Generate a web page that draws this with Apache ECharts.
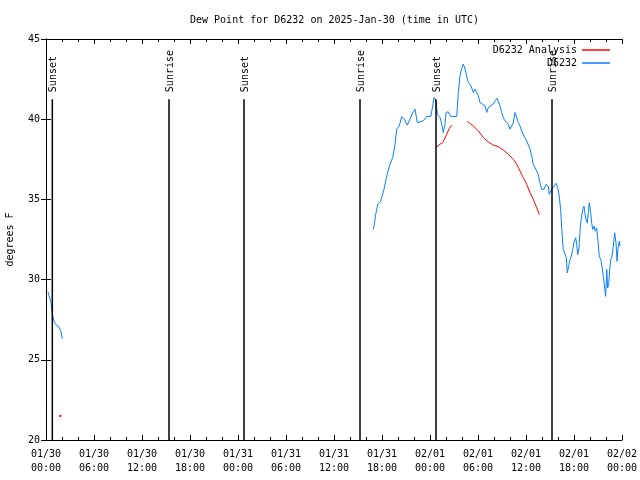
<!DOCTYPE html>
<html>
<head>
<meta charset="utf-8">
<script src="https://cdn.jsdelivr.net/npm/echarts@6/dist/echarts.min.js"></script>
<style>html,body{margin:0;padding:0;background:#fff}#c{width:640px;height:480px}</style>
</head>
<body>
<div id="c"></div>
<script>
// Hours since 2025-01-30 00:00 UTC
var xTickLabels = ['01/30\n00:00','01/30\n06:00','01/30\n12:00','01/30\n18:00','01/31\n00:00','01/31\n06:00','01/31\n12:00','01/31\n18:00','02/01\n00:00','02/01\n06:00','02/01\n12:00','02/01\n18:00','02/02\n00:00'];

var obsHours = [0.25,0.5,0.625,0.75,1.0,1.25,1.625,1.875,2.04,null,
40.91,41.0,41.09,41.21,41.34,41.46,41.66,41.84,41.96,42.25,42.5,42.75,43.0,43.34,43.63,43.84,44.16,44.46,44.79,45.16,45.5,45.84,46.13,46.41,46.66,47.16,47.59,48.09,48.34,48.5,48.75,48.91,49.25,49.46,49.66,49.88,50.0,50.29,50.59,51.34,51.54,51.75,51.96,52.16,52.38,52.59,52.79,53.13,53.41,53.63,53.84,54.04,54.25,54.46,54.88,55.09,55.29,55.5,55.91,56.13,56.38,56.75,56.96,57.16,57.38,57.59,57.79,58.0,58.21,58.41,58.63,58.84,59.04,59.25,59.46,59.75,60.09,60.29,60.5,60.71,60.91,61.13,61.34,61.54,61.66,61.84,61.96,62.25,62.5,62.79,62.91,63.09,63.29,63.5,63.75,63.96,64.16,64.34,64.5,64.66,64.91,65.04,65.16,65.34,65.5,65.66,65.84,66.04,66.21,66.34,66.46,66.63,66.79,66.91,67.09,67.25,67.38,67.5,67.66,67.79,67.91,68.09,68.21,68.34,68.5,68.66,68.84,69.0,69.16,69.34,69.5,69.66,69.84,69.96,70.09,70.21,70.34,70.46,70.59,70.75,70.91,71.09,71.25,71.38,71.5,71.66,71.75];
var obsDew = [29.23,29.12,28.56,27.94,27.39,27.19,27.04,26.77,26.31,null,
33.13,33.33,33.64,34.06,34.38,34.69,34.75,34.89,35.0,35.63,36.25,36.75,37.19,37.61,38.44,39.38,39.58,40.17,40.0,39.63,40.0,40.42,40.63,39.79,39.89,39.89,40.17,40.17,40.83,41.36,41.14,40.31,40.11,39.69,39.17,39.69,40.42,40.46,40.17,40.17,41.67,42.71,43.17,43.44,43.13,43.23,42.29,42.08,41.67,41.88,41.67,41.46,41.04,40.94,40.83,40.42,40.73,40.83,40.94,41.14,41.3,40.83,40.42,40.11,39.89,40.0,39.69,39.38,39.58,39.79,40.42,40.31,39.79,39.58,39.27,38.96,38.64,38.54,38.13,37.71,37.19,37.08,36.77,36.56,36.25,35.83,35.63,35.63,35.94,35.83,35.31,35.52,35.42,35.83,36.0,35.73,35.21,34.27,32.92,31.88,31.88,31.36,30.42,30.83,31.25,31.46,31.88,32.39,32.61,32.19,31.56,31.98,33.33,33.75,34.38,34.58,34.06,33.75,33.54,34.17,34.79,34.17,33.54,33.13,33.33,33.02,33.23,32.39,31.46,31.25,30.83,30.21,29.48,28.96,30.63,29.48,29.69,30.63,31.25,31.46,32.08,32.92,32.29,31.14,31.98,32.39,32.08];

var anaHours = [1.79,null,48.71,49.25,49.59,50.09,50.41,50.71,null,52.66,53.41,54.04,54.66,55.29,55.91,56.54,57.16,57.79,58.41,58.84,59.25,59.66,60.09,60.5,60.91,61.34,61.66];
var anaDew = [21.5,null,38.23,38.44,38.54,39.06,39.42,39.63,null,39.86,39.58,39.27,38.86,38.58,38.38,38.29,38.08,37.81,37.5,37.19,36.77,36.36,35.94,35.42,35.0,34.48,34.06];

var sunHours = [0.79,15.375,24.75,39.25,48.75,63.25];
var sunLabels = ['Sunset','Sunrise','Sunset','Sunrise','Sunset','Sunrise'];

var FONT = '"DejaVu Sans Mono", monospace';

function pairs(xs, ys) {
  return xs.map(function (x, i) {
    if (x === null || ys[i] === null) return [null, null];
    var isolated = (i === 0 || xs[i-1] === null) && (i === xs.length-1 || xs[i+1] === null);
    if (isolated) return { value: [x, ys[i]], symbol: 'rect', symbolSize: 2 };
    return [x, ys[i]];
  });
}

var chart = echarts.init(document.getElementById('c'), null, {renderer: 'canvas'});
var xBase = {
  type: 'value', min: 0, max: 72, interval: 6,
  axisLine: {lineStyle: {color: '#000', width: 1}},
  axisTick: {inside: true, length: 5, lineStyle: {color: '#000'}},
  minorTick: {show: true, splitNumber: 3, length: 3, lineStyle: {color: '#000'}},
  splitLine: {show: false}
};
var yBase = {
  type: 'value', min: 20, max: 45, interval: 5,
  axisLine: {show: true, lineStyle: {color: '#000', width: 1}},
  axisTick: {show: true, inside: true, length: 5, lineStyle: {color: '#000'}},
  splitLine: {show: false}
};
var option = {
  animation: false,
  backgroundColor: '#fff',
  title: {
    text: 'Dew Point for D6232 on 2025-Jan-30 (time in UTC)',
    left: 190, top: 15, padding: 0,
    textStyle: {fontFamily: FONT, fontSize: 10, fontWeight: 'normal', color: '#000'}
  },
  legend: [
    {data: ['D6232 Analysis'], right: 30, top: 45, padding: 0, align: 'right', orient: 'vertical',
     itemWidth: 28, itemHeight: 1.5, icon: 'rect', textStyle: {fontFamily: FONT, fontSize: 10, color: '#000'}},
    {data: ['D6232'], right: 30, top: 58, padding: 0, align: 'right', orient: 'vertical',
     itemWidth: 28, itemHeight: 1.5, icon: 'rect', textStyle: {fontFamily: FONT, fontSize: 10, color: '#000'}}
  ],
  grid: {left: 46, right: 18, top: 39, bottom: 40, containLabel: false, outerBoundsMode: 'none'},
  xAxis: [
    Object.assign({}, xBase, {
      position: 'bottom',
      axisLabel: {
        fontFamily: FONT, fontSize: 10, color: '#000', lineHeight: 14, margin: 7,
        formatter: function (v) { return xTickLabels[Math.round(v / 6)]; }
      }
    }),
    Object.assign({}, xBase, {position: 'top', axisLabel: {show: false}})
  ],
  yAxis: [
    Object.assign({}, yBase, {
      position: 'left',
      name: 'degrees F', nameLocation: 'middle', nameGap: 31, nameRotate: 90,
      nameTextStyle: {fontFamily: FONT, fontSize: 10, color: '#000'},
      axisLabel: {fontFamily: FONT, fontSize: 10, color: '#000', margin: 6}
    }),
    Object.assign({}, yBase, {position: 'right', axisLabel: {show: false}})
  ],
  series: [
    {
      name: 'D6232 Analysis', type: 'line', data: pairs(anaHours, anaDew),
      symbol: 'none', showSymbol: true, connectNulls: false,
      itemStyle: {color: '#ff0000'},
      lineStyle: {color: '#ff0000', width: 1}
    },
    {
      name: 'D6232', type: 'line', data: pairs(obsHours, obsDew),
      symbol: 'none', connectNulls: false,
      itemStyle: {color: '#0a80ff'},
      lineStyle: {color: '#0a80ff', width: 1}
    },
    {
      type: 'custom', silent: true, z: 5,
      data: sunHours.map(function (h) { return [h, 41.25]; }),
      renderItem: function (params, api) {
        var x = api.value(0);
        var p0 = api.coord([x, 20]);
        var p1 = api.coord([x, api.value(1)]);
        return {
          type: 'group',
          children: [
            {type: 'line', shape: {x1: p0[0], y1: p0[1], x2: p1[0], y2: p1[1]},
             style: {stroke: '#000', lineWidth: 1.5}},
            {type: 'text', x: p1[0] + 1, y: p1[1] - 7, rotation: Math.PI / 2,
             style: {text: sunLabels[params.dataIndex], font: '10px ' + FONT, fill: '#000',
                     align: 'left', verticalAlign: 'middle'}}
          ]
        };
      }
    }
  ]
};
chart.setOption(option);
</script>
</body>
</html>
